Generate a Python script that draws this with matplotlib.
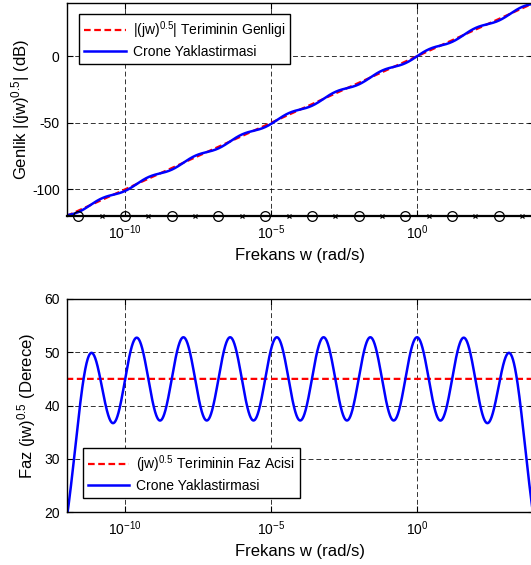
import numpy as np
import matplotlib
matplotlib.use('Agg')
import matplotlib.pyplot as plt

plt.rcParams['font.family'] = ['Liberation Sans', 'DejaVu Sans']
plt.rcParams['mathtext.fontset'] = 'custom'
plt.rcParams['mathtext.rm'] = 'Liberation Sans'
plt.rcParams['mathtext.it'] = 'Liberation Sans'
plt.rcParams['mathtext.default'] = 'regular'
plt.rcParams['axes.unicode_minus'] = False

# Crone cells (log10 of rad/s)
zero_log = [-11.6, -10.0, -8.4, -6.8, -5.2, -3.6, -2.0, -0.4, 1.2, 2.8]
pole_log = [-10.8, -9.2, -7.6, -6.0, -4.4, -2.8, -1.2, 0.4, 2.0, 3.6]
low_gain_db = -120          # gain of the approximation below the first zero
order = 0.5                 # (jw)^0.5
w_range_log = [-12, 4]

xtick_log = [-10, -5, 0]
xtick_labels = [r'$10^{-10}$', r'$10^{-5}$', r'$10^{0}$']
mag_ticks = [-100, -50, 0]
phase_ticks = [20, 30, 40, 50, 60]

w = np.logspace(w_range_log[0], w_range_log[1], 3000)
zeros = 10.0 ** np.array(zero_log)
poles = 10.0 ** np.array(pole_log)

ideal_mag = 20 * order * np.log10(w)
ideal_phase = np.full_like(w, 90 * order)

crone_mag = low_gain_db + sum(10 * np.log10(1 + (w / z) ** 2) for z in zeros) \
    - sum(10 * np.log10(1 + (w / p) ** 2) for p in poles)
crone_phase = np.degrees(sum(np.arctan(w / z) for z in zeros)
                         - sum(np.arctan(w / p) for p in poles))

fig = plt.figure(figsize=(5.31, 5.65), dpi=100)
ax1 = fig.add_axes([0.1254, 0.6177, 0.880, 0.377])
ax2 = fig.add_axes([0.1254, 0.0938, 0.880, 0.377])

grid_style = dict(color='black', linestyle=(0, (5, 3)), linewidth=0.7, alpha=0.8)
red_style = dict(color='red', linestyle=(0, (3, 1.6)), linewidth=1.6)
blue_style = dict(color='blue', linestyle='-', linewidth=1.8)
leg_style = dict(fontsize=10, frameon=True, fancybox=False, edgecolor='black',
                 framealpha=1, handlelength=3.0, borderpad=0.35,
                 labelspacing=0.3, borderaxespad=0, handletextpad=0.5)

# Magnitude
ax1.semilogx(w, ideal_mag, label=r'|(jw)$^{0.5}$| Teriminin Genligi', **red_style)
ax1.semilogx(w, crone_mag, label='Crone Yaklastirmasi', **blue_style)
ax1.plot(zeros, np.full(len(zeros), low_gain_db), 'o', mfc='none', mec='black',
         ms=7, mew=0.9, clip_on=False, zorder=5)
ax1.plot(poles, np.full(len(poles), low_gain_db), 'x', color='black',
         ms=3.5, mew=0.9, clip_on=False, zorder=5)
ax1.set_ylim(-120, 40)
ax1.set_yticks(mag_ticks)
ax1.set_ylabel(r'Genlik |(jw)$^{0.5}$| (dB)', fontsize=12, labelpad=0)
ax1.legend(loc='upper left', bbox_to_anchor=(0.027, 0.948), **leg_style)

# Phase
ax2.semilogx(w, ideal_phase, label=r'(jw)$^{0.5}$ Teriminin Faz Acisi', **red_style)
ax2.semilogx(w, crone_phase, label='Crone Yaklastirmasi', **blue_style)
ax2.set_ylim(20, 60)
ax2.set_yticks(phase_ticks)
ax2.set_ylabel(r'Faz (jw)$^{0.5}$ (Derece)', fontsize=12, labelpad=4)
ax2.legend(loc='lower left', bbox_to_anchor=(0.035, 0.066), **leg_style)

for ax in (ax1, ax2):
    ax.set_xlim(10.0 ** w_range_log[0], 10.0 ** w_range_log[1])
    ax.set_xticks([10.0 ** t for t in xtick_log])
    ax.set_xticklabels(xtick_labels)
    ax.xaxis.set_minor_locator(matplotlib.ticker.NullLocator())
    ax.set_xlabel('Frekans w (rad/s)', fontsize=12, labelpad=5)
    ax.grid(True, **grid_style)
    ax.tick_params(direction='in', length=4, width=0.8, labelsize=10,
                   top=True, right=True, pad=5)
    for s in ax.spines.values():
        s.set_linewidth(1.0)

ax1.spines['bottom'].set_linewidth(1.6)

fig.savefig('out.png', dpi=100)
